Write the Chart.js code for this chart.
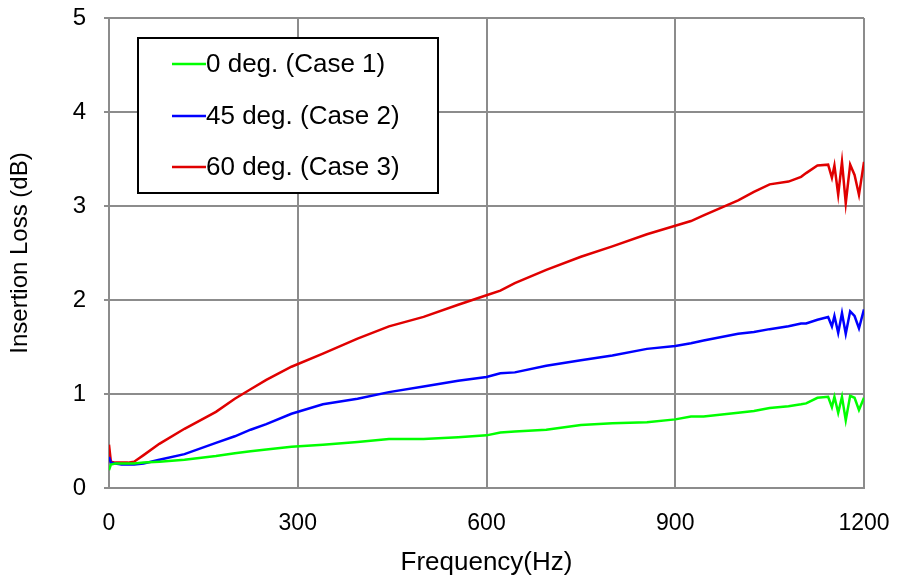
<!DOCTYPE html>
<html>
<head>
<meta charset="utf-8">
<script src="https://cdn.jsdelivr.net/npm/chart.js@4.4.0/dist/chart.umd.min.js"></script>
<style>
  html, body { margin: 0; padding: 0; background: #fff; }
  #wrap { width: 899px; height: 581px; }
</style>
</head>
<body>
<div id="wrap"><canvas id="lossChart" width="899" height="581"></canvas></div>
<script>
// Frequency points (Hz) shared by all three cases
const freqs = [0, 3, 10, 20, 30, 40, 55, 80, 120, 170, 200, 225, 250, 290, 340, 395, 445, 500, 555, 600,
    622, 645, 695, 750, 800, 855, 900, 925, 945, 1000, 1025, 1050, 1080, 1100, 1108, 1126, 1143,
    1149, 1153, 1159, 1165, 1171, 1178, 1185, 1192, 1200];

// Insertion loss (dB)
const case1 = [0.19, 0.25, 0.26, 0.26, 0.26, 0.26, 0.27, 0.28, 0.30, 0.34, 0.37, 0.39, 0.41, 0.44, 0.46, 0.49, 0.52, 0.52, 0.54, 0.56,
    0.59, 0.60, 0.62, 0.67, 0.69, 0.70, 0.73, 0.76, 0.76, 0.80, 0.82, 0.85, 0.87, 0.89, 0.90, 0.96, 0.97,
    0.86, 0.97, 0.80, 0.97, 0.72, 0.98, 0.96, 0.83, 0.96];
const case2 = [0.33, 0.27, 0.26, 0.25, 0.25, 0.25, 0.26, 0.30, 0.36, 0.48, 0.55, 0.62, 0.68, 0.79, 0.89, 0.95, 1.02, 1.08, 1.14, 1.18,
    1.22, 1.23, 1.30, 1.36, 1.41, 1.48, 1.51, 1.54, 1.57, 1.64, 1.66, 1.69, 1.72, 1.75, 1.75, 1.79, 1.82,
    1.72, 1.83, 1.65, 1.86, 1.64, 1.88, 1.83, 1.70, 1.90];
const case3 = [0.46, 0.28, 0.27, 0.27, 0.27, 0.28, 0.35, 0.47, 0.63, 0.81, 0.95, 1.05, 1.15, 1.29, 1.43, 1.59, 1.72, 1.82, 1.95, 2.05,
    2.10, 2.18, 2.32, 2.46, 2.57, 2.70, 2.79, 2.84, 2.90, 3.06, 3.15, 3.23, 3.26, 3.31, 3.35, 3.43, 3.44,
    3.30, 3.43, 3.12, 3.47, 3.03, 3.44, 3.33, 3.12, 3.47];

const seriesLabels = ['0 deg. (Case 1)', '45 deg. (Case 2)', '60 deg. (Case 3)'];
const seriesColors = ['#00ff00', '#0000ff', '#e00000'];
const xTicks = [0, 300, 600, 900, 1200];
const yTicks = [0, 1, 2, 3, 4, 5];

const FONT = '"Liberation Sans", Arial, sans-serif';

function toPoints(values) {
    return freqs.map((f, i) => ({ x: f, y: values[i] }));
}

// Boxed legend inside the plot, like the original
const boxLegend = {
    id: 'boxLegend',
    afterDatasetsDraw(chart) {
        const ctx = chart.ctx;
        const left = 138, top = 38, width = 300, height = 155;
        ctx.save();
        ctx.fillStyle = '#fff';
        ctx.fillRect(left, top, width, height);
        ctx.strokeStyle = '#000';
        ctx.lineWidth = 2;
        ctx.strokeRect(left, top, width, height);
        const rows = [64, 116, 167];
        ctx.font = '26px ' + FONT;
        ctx.textBaseline = 'middle';
        ctx.textAlign = 'left';
        chart.data.datasets.forEach((ds, i) => {
            ctx.strokeStyle = ds.borderColor;
            ctx.lineWidth = 2.5;
            ctx.beginPath();
            ctx.moveTo(172, rows[i]);
            ctx.lineTo(206, rows[i]);
            ctx.stroke();
            ctx.fillStyle = '#000';
            ctx.fillText(ds.label, 206, rows[i] + 1);
        });
        ctx.restore();
    }
};

const ctx = document.getElementById('lossChart').getContext('2d');
new Chart(ctx, {
    type: 'line',
    data: {
        datasets: [case1, case2, case3].map((vals, i) => ({
            label: seriesLabels[i],
            data: toPoints(vals),
            borderColor: seriesColors[i],
            backgroundColor: seriesColors[i],
            borderWidth: 2.5,
            pointRadius: 0,
            tension: 0,
            fill: false
        }))
    },
    options: {
        responsive: false,
        animation: false,
        layout: { padding: { top: 18, right: 35, left: 0, bottom: 0 } },
        plugins: {
            legend: { display: false },
            tooltip: { enabled: false }
        },
        scales: {
            x: {
                type: 'linear',
                min: 0,
                max: 1200,
                afterBuildTicks: (axis) => { axis.ticks = xTicks.map(v => ({ value: v })); },
                afterFit: (axis) => {
                    axis.height = 93;
                    axis.paddingLeft = 0;
                    axis.paddingRight = 0;
                },
                ticks: {
                    color: '#000',
                    padding: 22,
                    font: { family: FONT, size: 23 },
                    callback: (v) => String(v)
                },
                grid: { color: '#8c8c8c', lineWidth: 2, drawTicks: false },
                border: { color: '#8c8c8c', width: 2 },
                title: {
                    display: true,
                    text: 'Frequency(Hz)',
                    color: '#000',
                    font: { family: FONT, size: 26 },
                    padding: { top: 0, bottom: 3 }
                }
            },
            y: {
                type: 'linear',
                min: 0,
                max: 5,
                afterBuildTicks: (axis) => { axis.ticks = yTicks.map(v => ({ value: v })); },
                afterFit: (axis) => {
                    axis.width = 109;
                    axis.paddingTop = 0;
                    axis.paddingBottom = 0;
                },
                ticks: {
                    color: '#000',
                    padding: 18,
                    font: { family: FONT, size: 24 },
                    callback: (v) => String(v)
                },
                grid: { color: '#8c8c8c', lineWidth: 2, tickLength: 5 },
                border: { color: '#8c8c8c', width: 2 },
                title: {
                    display: true,
                    text: 'Insertion Loss (dB)',
                    color: '#000',
                    font: { family: FONT, size: 24 },
                    padding: { top: 6, bottom: 0 }
                }
            }
        }
    },
    plugins: [boxLegend]
});
</script>
</body>
</html>
